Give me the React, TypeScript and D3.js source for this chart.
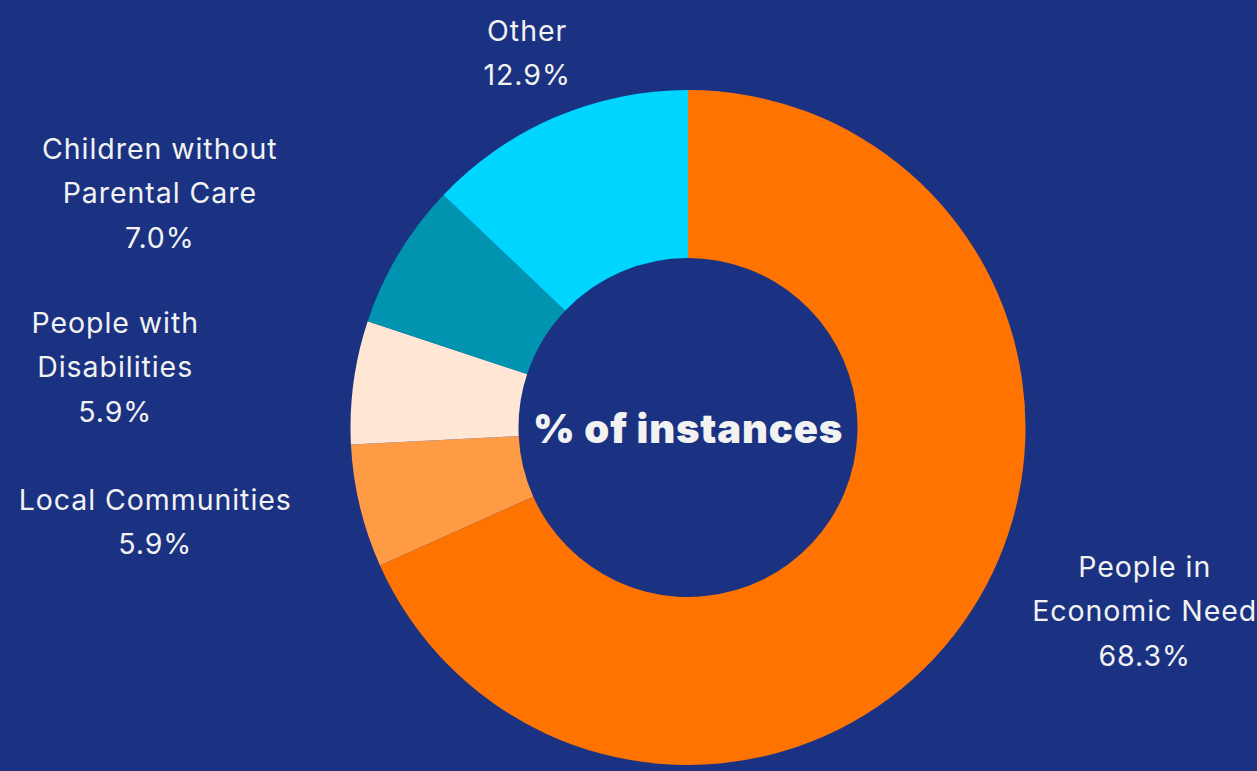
import React from "react";
import * as d3 from "d3";

const categories = [
  "People in Economic Need",
  "Local Communities",
  "People with Disabilities",
  "Children without Parental Care",
  "Other",
];
const labelLines = [
  ["People in", "Economic Need"],
  ["Local Communities"],
  ["People with", "Disabilities"],
  ["Children without", "Parental Care"],
  ["Other"],
];
const values = [68.3, 5.9, 5.9, 7.0, 12.9];
const colors = ["#ff7400", "#ff9a45", "#ffe6d5", "#0094b0", "#00d5ff"];

// label layout: distance from centre and angular nudge (degrees)
const labelLayout = [
  { r: 492, nudge: -11.1 },
  { r: 541, nudge: 3.5 },
  { r: 576, nudge: -1.7 },
  { r: 578, nudge: -7 },
  { r: 408, nudge: 0 },
];

const W = 1257;
const H = 771;
const CX = 688;
const CY = 427.5;
const R_OUT = 337.5;
const R_IN = 169.5;
const FONT = "Inter, 'DejaVu Sans', sans-serif";
const LH = 44.5;
const CAP = 21;

export default function App() {
  const pie = d3
    .pie<number>()
    .sort(null)
    .value((d) => d)(values);
  const arc = d3.arc<d3.PieArcDatum<number>>().innerRadius(R_IN).outerRadius(R_OUT);

  return (
    <svg
      width={W}
      height={H}
      style={{ position: "absolute", left: 0, top: 0, display: "block" }}
    >
      <rect x={0} y={0} width={W} height={H} fill="#1b3282" />
      <g transform={`translate(${CX},${CY})`}>
        {pie.map((p, i) => (
          <path key={categories[i]} d={arc(p) || ""} fill={colors[i]} />
        ))}
        {pie.map((p, i) => {
          const mid = (p.startAngle + p.endAngle) / 2 + (labelLayout[i].nudge * Math.PI) / 180;
          const x = labelLayout[i].r * Math.sin(mid);
          const y = -labelLayout[i].r * Math.cos(mid);
          const lines = [...labelLines[i], `${values[i].toFixed(1)}%`];
          const first = y - ((lines.length - 1) * LH) / 2 + CAP / 2;
          return (
            <text
              key={"l" + i}
              textAnchor="middle"
              fill="#f2f2f2"
              fontFamily={FONT}
              fontWeight={400}
              fontSize={28.5}
              letterSpacing={0.95}
            >
              {lines.map((ln, j) => (
                <tspan key={j} x={x} y={first + j * LH}>
                  {ln}
                </tspan>
              ))}
            </text>
          );
        })}
        <text
          x={0}
          y={15}
          textAnchor="middle"
          fill="#f2f2f2"
          fontFamily={FONT}
          fontWeight={900}
          fontSize={40}
          letterSpacing={0.8}
        >
          % of instances
        </text>
      </g>
    </svg>
  );
}
